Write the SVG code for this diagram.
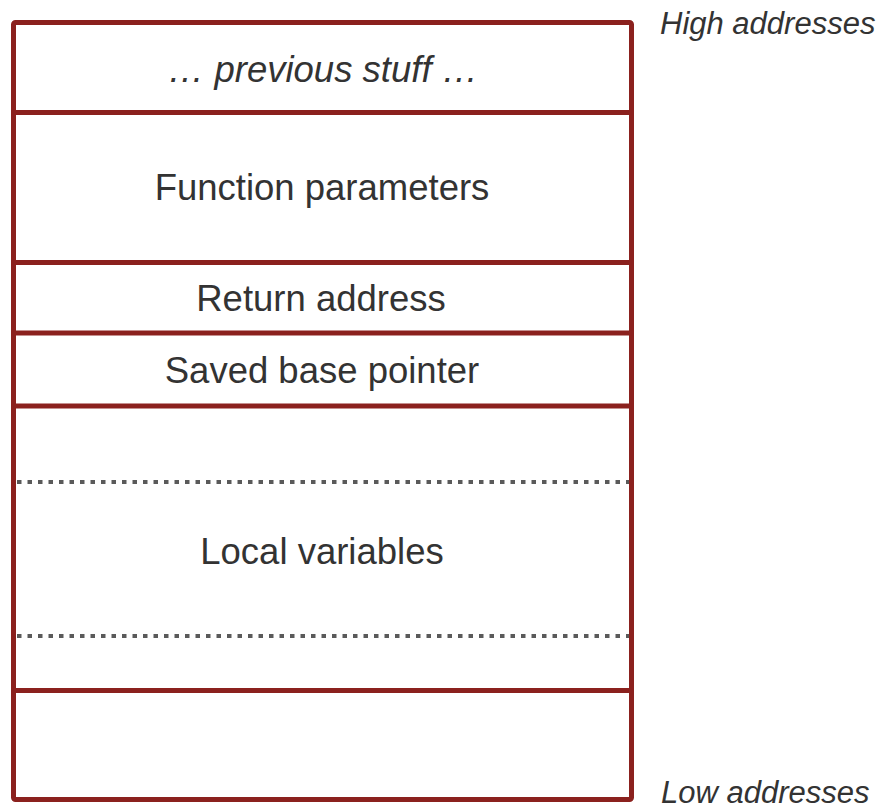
<svg xmlns="http://www.w3.org/2000/svg" width="887" height="806" viewBox="0 0 887 806">
<style>
.box{fill:none;stroke:#8b211e;stroke-width:5;stroke-linejoin:round}
.div{stroke:#8b211e;stroke-width:5}
.dot{stroke:#5a5a5a;stroke-width:4;stroke-dasharray:4.5 6}
.lbl{font-family:"Liberation Sans",Arial,sans-serif;font-size:36.5px;fill:#333;text-anchor:middle}
.it{font-style:italic}
.side{font-family:"Liberation Sans",Arial,sans-serif;font-size:31px;fill:#333;font-style:italic}
</style>
<rect width="887" height="806" fill="#fff"/>
<g id="stack">
<rect class="box" x="13.5" y="22.5" width="618" height="777" rx="2"/>
</g>
<g id="connectors">
<line class="div" x1="13.5" y1="112.5" x2="631.5" y2="112.5"/>
<line class="div" x1="13.5" y1="262.5" x2="631.5" y2="262.5"/>
<line class="div" x1="13.5" y1="333" x2="631.5" y2="333"/>
<line class="div" x1="13.5" y1="406" x2="631.5" y2="406"/>
<line class="div" x1="13.5" y1="690.5" x2="631.5" y2="690.5"/>
<line class="dot" x1="17" y1="482" x2="629" y2="482"/>
<line class="dot" x1="17" y1="636" x2="629" y2="636"/>
</g>
<g id="previous"><text class="lbl it" x="323" y="82">… previous stuff …</text></g>
<g id="params"><text class="lbl" x="322" y="200">Function parameters</text></g>
<g id="ret"><text class="lbl" x="321" y="311">Return address</text></g>
<g id="savedbp"><text class="lbl" x="322" y="383">Saved base pointer</text></g>
<g id="locals"><text class="lbl" x="322" y="564">Local variables</text></g>
<g id="high"><text class="side" x="660" y="34">High addresses</text></g>
<g id="low"><text class="side" x="661" y="803">Low addresses</text></g>
</svg>
